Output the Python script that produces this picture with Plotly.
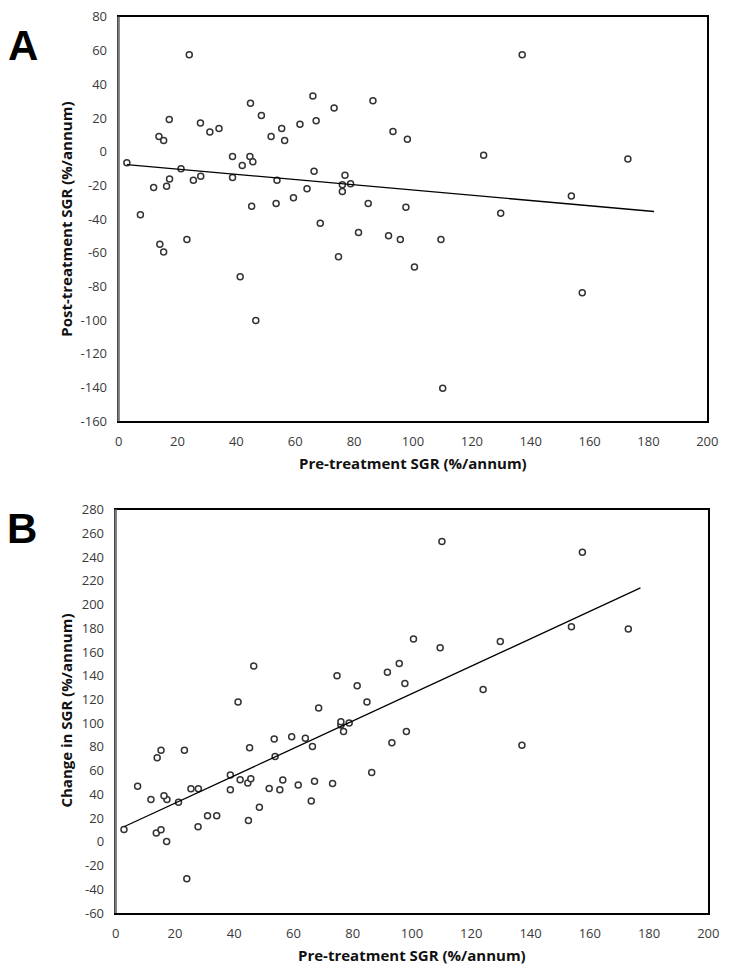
import plotly.graph_objects as go

# Pre-treatment SGR (%/annum) for each participant
pre_sgr = [2.8, 7.4, 11.9, 13.7, 15.3, 17.2, 17.3, 16.3, 14.0, 15.3,
           21.2, 24.0, 23.2, 25.4, 27.9, 27.8, 31.0, 34.1, 38.7, 38.7,
           42.0, 44.6, 45.6, 44.8, 45.2, 48.5, 51.8, 53.8, 53.5, 55.4,
           56.4, 59.4, 61.6, 64.0, 66.0, 66.4, 67.1, 68.5, 73.2, 76.9,
           76.0, 76.0, 78.8, 81.5, 84.8, 86.4, 74.7, 41.3, 46.6, 93.2,
           98.1, 137.1, 124.0, 173.0, 153.8, 129.8, 97.6, 91.7, 95.7, 109.5,
           100.5, 157.5, 110.1]

# Post-treatment SGR (%/annum) - panel A
post_sgr = [-6.6, -37.4, -21.2, 9.0, 6.6, 19.1, -16.2, -20.5, -55.0, -59.5,
            -10.1, 57.5, -52.2, -17.0, -14.6, 17.0, 11.7, 13.8, -2.9, -15.4,
            -8.2, -2.9, -6.0, 28.8, -32.4, 21.4, 9.0, -17.0, -30.8, 13.8,
            6.6, -27.3, 16.2, -22.0, 33.1, -11.7, 18.3, -42.5, 25.9, -14.0,
            -19.7, -23.6, -19.1, -48.0, -30.8, 30.2, -62.4, -74.3, -100.2, 11.9,
            7.4, 57.5, -2.1, -4.3, -26.3, -36.6, -33.0, -49.9, -52.2, -52.2,
            -68.4, -83.8, -140.4]

# Change in SGR (%/annum) - panel B
change_sgr = [10.5, 46.9, 35.6, 7.4, 10.2, 0.3, 35.6, 38.9, 70.9, 77.2,
              33.4, -31.2, 77.2, 44.7, 44.7, 12.7, 22.1, 22.1, 43.9, 56.3,
              52.4, 49.7, 53.2, 17.9, 79.2, 29.2, 45.0, 72.0, 86.6, 43.9,
              52.1, 88.6, 48.0, 87.4, 34.5, 80.3, 51.0, 112.8, 49.1, 93.0,
              98.5, 101.2, 100.1, 131.6, 117.8, 58.5, 139.9, 117.8, 148.1, 83.6,
              92.9, 81.4, 128.3, 179.3, 181.2, 168.8, 133.5, 142.9, 150.3, 163.6,
              171.0, 244.1, 253.2]

# Linear trend lines (end points)
trend_a_x = [2.8, 181.9]
trend_a_y = [-7.7, -35.5]
trend_b_x = [2.8, 177.1]
trend_b_y = [12.7, 214.0]

x_ticks = list(range(0, 201, 20))
ya_ticks = list(range(-160, 81, 20))
yb_ticks = list(range(-60, 281, 20))
x_tick_labels = [str(v) for v in x_ticks]
ya_tick_labels = [str(v) for v in ya_ticks]   # plain hyphen-minus, as in the original
yb_tick_labels = [str(v) for v in yb_ticks]

W, H = 735, 978
marker = dict(symbol="circle", size=6, color="white",
              line=dict(color="#333333", width=1.5))
tick_font = dict(family="Open Sans, Lato, sans-serif", size=13, color="#3a3a3a")
title_font = dict(family="Open Sans, Lato, sans-serif", size=15, color="#111111")

fig = go.Figure()
fig.add_trace(go.Scatter(x=pre_sgr, y=post_sgr, mode="markers", marker=marker,
                         xaxis="x", yaxis="y", showlegend=False))
fig.add_trace(go.Scatter(x=trend_a_x, y=trend_a_y, mode="lines",
                         line=dict(color="black", width=1.3),
                         xaxis="x", yaxis="y", showlegend=False))
fig.add_trace(go.Scatter(x=pre_sgr, y=change_sgr, mode="markers", marker=marker,
                         xaxis="x2", yaxis="y2", showlegend=False))
fig.add_trace(go.Scatter(x=trend_b_x, y=trend_b_y, mode="lines",
                         line=dict(color="black", width=1.3),
                         xaxis="x2", yaxis="y2", showlegend=False))

def ax(domain, rng, tickvals, ticktext, anchor):
    return dict(domain=domain, range=rng, tickvals=tickvals, ticktext=ticktext,
                showgrid=False, zeroline=False, showline=True, linecolor="black",
                linewidth=2, mirror=True, ticks="outside", ticklen=7,
                tickcolor="rgba(0,0,0,0)", tickfont=tick_font, anchor=anchor,
                fixedrange=True)

fig.update_layout(
    width=W, height=H,
    margin=dict(l=0, r=0, t=0, b=0),
    paper_bgcolor="white", plot_bgcolor="white",
    xaxis=ax([117 / W, 718 / W], [0, 200], x_ticks, x_tick_labels, "y"),
    yaxis=ax([1 - 420 / H, 1 - 8 / H], [-160, 80], ya_ticks, ya_tick_labels, "x"),
    xaxis2=ax([114 / W, 719 / W], [0, 200], x_ticks, x_tick_labels, "y2"),
    yaxis2=ax([1 - 921 / H, 1 - 510 / H], [-60, 280], yb_ticks, yb_tick_labels, "x2"),
)

# grey left-hand (value) axis line, as in the original
for xr, yr in (("x domain", "y domain"), ("x2 domain", "y2 domain")):
    fig.add_shape(type="line", xref=xr, yref=yr, x0=0, x1=0, y0=0, y1=1,
                  line=dict(color="#7a7a7a", width=2.5), layer="above")

def txt(text, x, y, angle=0, font=title_font):
    fig.add_annotation(text=text, x=x / W, y=1 - y / H, xref="paper", yref="paper",
                       showarrow=False, textangle=angle, font=font,
                       xanchor="center", yanchor="middle")

txt("<b>Pre-treatment SGR (%/annum)</b>", 418, 463)
txt("<b>Post-treatment SGR (%/annum)</b>", 63, 214, angle=-90)
txt("<b>Pre-treatment SGR (%/annum)</b>", 416, 964)
txt("<b>Change in SGR (%/annum)</b>", 63, 715, angle=-90)

panel_font = dict(family="Liberation Sans, Arial, sans-serif", size=42, color="black")
txt("<b>A</b>", 19, 37, font=panel_font)
txt("<b>B</b>", 18, 529, font=panel_font)

fig.write_html("out.html",
               config={"displayModeBar": False},
               post_script="document.body.style.margin='0px';"
                           "document.body.style.overflow='hidden';")
